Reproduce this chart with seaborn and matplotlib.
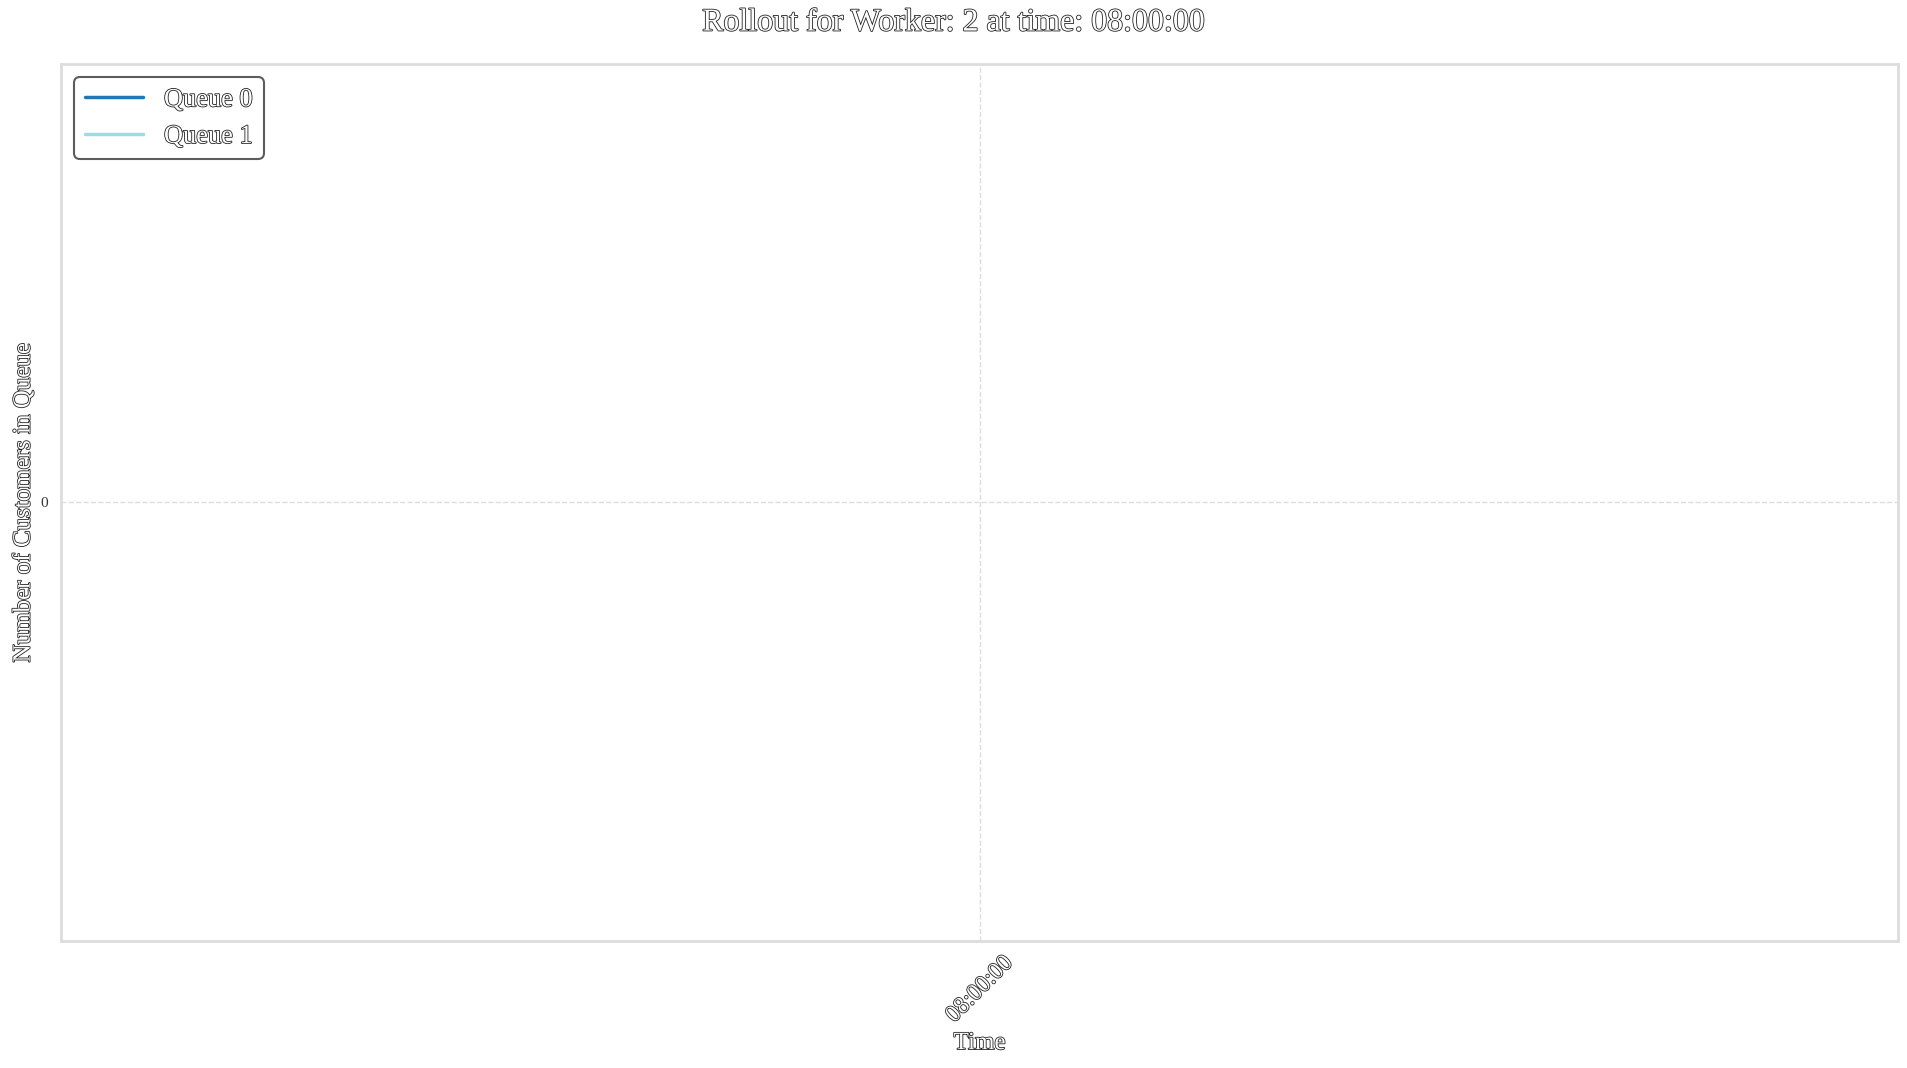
import matplotlib

matplotlib.use("Agg")

import matplotlib.pyplot as plt
import matplotlib.patheffects as pe
import pandas as pd
import seaborn as sns

worker = 2
times = ["08:00:00"]
queue_0 = [0]
queue_1 = [0]
queue_names = ["Queue 0", "Queue 1"]
colors = ["#1f77b4", "#9edae5"]

sns.set_theme(style="whitegrid")
plt.rcParams["font.family"] = ["Liberation Serif", "DejaVu Serif"]

outline = [pe.withStroke(linewidth=1.2, foreground="#222222")]

frame = pd.DataFrame({"time": times * 2,
                      "count": queue_0 + queue_1,
                      "queue": [queue_names[0]] * len(times) + [queue_names[1]] * len(times)})

fig = plt.figure(figsize=(19.08, 10.68), dpi=100)
ax = fig.add_axes([0.032, 0.119, 0.963, 0.821])
sns.lineplot(data=frame, x="time", y="count", hue="queue", palette=colors, linewidth=2.5, ax=ax)

ax.set_xlim(-0.5, 0.5)
ax.set_ylim(-0.055, 0.055)
ax.set_yticks([0])
ax.set_yticklabels(["0"], fontsize=11, color="#333333")
ax.grid(True, linestyle="--", color="#dddddd", linewidth=1)
for spine in ax.spines.values():
    spine.set_color("#dddddd")
    spine.set_linewidth(2)
ax.tick_params(axis="x", length=5, color="#cccccc")

for lab in ax.get_xticklabels():
    lab.set_rotation(45)
    lab.set_fontsize(17)
    lab.set_color("white")
    lab.set_path_effects(outline)

ax.set_xlabel("Time", fontsize=18, color="white", path_effects=outline)
ax.set_ylabel("Number of Customers in Queue", fontsize=18, color="white", path_effects=outline)
fig.suptitle(f"Rollout for Worker: {worker} at time: {times[0]}", fontsize=23,
             color="white", path_effects=outline, y=0.992)

leg = ax.legend(loc="upper left", fontsize=19, frameon=True, fancybox=True, title=None,
                handlelength=2.2, borderpad=0.4, labelspacing=0.5)
leg.get_frame().set_edgecolor("#333333")
leg.get_frame().set_linewidth(1.5)
for t in leg.get_texts():
    t.set_color("white")
    t.set_path_effects(outline)

fig.savefig("out.png", dpi=100)
plt.close(fig)
